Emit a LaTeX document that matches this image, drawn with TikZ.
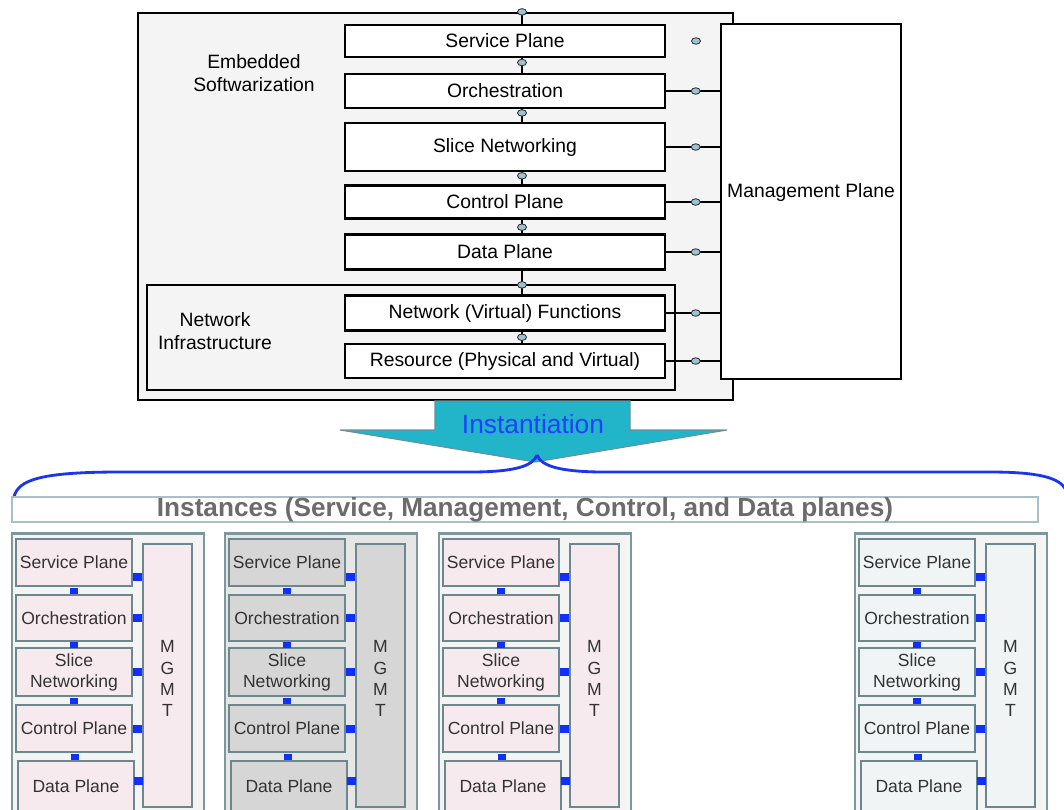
\documentclass[tikz,border=0pt]{standalone}
\usepackage{fontspec}
\setmainfont{Liberation Sans}
\usetikzlibrary{calc,positioning,shapes.geometric}

\definecolor{plugblue}{HTML}{9CC3D5}
\definecolor{arrowcyan}{HTML}{22B4C8}
\definecolor{arrowedge}{HTML}{6F8F96}
\definecolor{instblue}{HTML}{2040FF}
\definecolor{bracecol}{HTML}{1A35F0}
\definecolor{bannerline}{HTML}{A8C0C6}
\definecolor{instgray}{HTML}{6B6B6B}
\definecolor{groupline}{HTML}{7D979B}
\definecolor{layerline}{HTML}{6D888C}
\definecolor{pinkfill}{HTML}{F6EAEE}
\definecolor{grayfill}{HTML}{D6D6D6}
\definecolor{palefill}{HTML}{F0F4F5}
\definecolor{groupback}{HTML}{F4F4F4}
\definecolor{groupgray}{HTML}{E6E6E6}
\definecolor{sqblue}{HTML}{1030FF}

\tikzset{
	layer/.style={draw=black, line width=1.2pt, fill=white, minimum width=6.4cm, inner sep=0pt, font=\fontsize{11}{13}\selectfont},
	plug/.style={ellipse, draw=black!80, fill=plugblue, line width=0.5pt, minimum width=0.18cm, minimum height=0.13cm, inner sep=0pt},
	wire/.style={line width=1.3pt},
	ilayer/.style={draw=layerline, line width=1.4pt, minimum width=2.32cm, inner sep=0pt, align=center, text=black!80, font=\fontsize{10}{12}\selectfont},
	sq/.style={fill=sqblue, minimum width=0.16cm, minimum height=0.12cm, inner sep=0pt},
	sqside/.style={fill=sqblue, minimum width=0.18cm, minimum height=0.16cm, inner sep=0pt},
}

\begin{document}
\begin{tikzpicture}[x=0.02cm, y=-0.02cm]
			%%%%% START %%%%%
			\useasboundingbox (0,0) rectangle (1064,809);
			
			% embedded softwarization
			\node[draw=black, line width=1.3pt, fill=groupback, minimum width=11.9cm, minimum height=7.74cm, inner sep=0pt] (embed) at (435.5,206.5) {};
			\node[draw=black, line width=1.2pt, fill=groupback, minimum width=10.56cm, minimum height=2.1cm, inner sep=0pt] (infra) at (411,337.5) {};
			
			\node[align=center, font=\fontsize{11}{13}\selectfont] (embtxt) at (254,73) {Embedded\\Softwarization};
			\node[align=center, font=\fontsize{11}{13}\selectfont] (infratxt) at (215,331) {Network\\Infrastructure};
			
			\node[layer, minimum height=0.64cm] (sp) at (505,41) {Service Plane};
			\node[layer, minimum height=0.68cm] (orch) at (505,91) {Orchestration};
			\node[layer, minimum height=0.96cm] (slice) at (505,147) {Slice Networking};
			\node[layer, minimum height=0.66cm] (cp) at (505,202) {Control Plane};
			\node[layer, minimum height=0.70cm] (dp) at (505,252) {Data Plane};
			\node[layer, minimum height=0.70cm] (nvf) at (505,313) {Network (Virtual) Functions};
			\node[layer, minimum height=0.68cm] (res) at (505,361) {Resource (Physical and Virtual)};
			
			\node[draw=black, line width=1.2pt, fill=white, minimum width=3.6cm, minimum height=7.1cm, inner sep=0pt, font=\fontsize{11}{13}\selectfont] (mp) at (811,201.5) {};
			\node[font=\fontsize{11}{13}\selectfont] (mptxt) at (811,192) {Management Plane};
			
			\coordinate (spin) at ($(sp.north)+(17,0)$);
			\draw[wire] (spin) -- node[plug, pos=1]{} (spin |- embed.north);
			\draw[wire] ($(sp.south)+(17,0)$) -- node[plug, pos=0.3]{} ($(orch.north)+(17,0)$);
			\draw[wire] ($(orch.south)+(17,0)$) -- node[plug, pos=0.3]{} ($(slice.north)+(17,0)$);
			\draw[wire] ($(slice.south)+(17,0)$) -- node[plug, pos=0.3]{} ($(cp.north)+(17,0)$);
			\draw[wire] ($(cp.south)+(17,0)$) -- node[plug, pos=0.55]{} ($(dp.north)+(17,0)$);
			\draw[wire] ($(dp.south)+(17,0)$) -- node[plug, pos=0.6]{} ($(nvf.north)+(17,0)$);
			\draw[wire] ($(nvf.south)+(17,0)$) -- node[plug, pos=0.5]{} ($(res.north)+(17,0)$);
			
			\node[plug] (spare) at (696,41) {};
			\foreach \lay in {orch,slice,cp,dp,nvf,res}
				\draw[wire] (\lay.east) -- node[plug, pos=0.55]{} (\lay.east -| mp.west);
			
			% instantiation
			\draw[fill=arrowcyan, draw=arrowedge, line width=0.6pt] (435,401) -- (630,401) -- (630,430) -- (727,430) -- (535,462) -- (340,430) -- (435,430) -- cycle;
			\node[text=instblue, font=\fontsize{15}{17}\selectfont] (inst) at (533,424) {Instantiation};
			
			\draw[bracecol, line width=1.6pt] (14,497) .. controls (18,480) and (40,472) .. (120,472) -- (470,472) .. controls (515,472) and (533,466) .. (537,455);
			\draw[bracecol, line width=1.6pt] (537,455) .. controls (541,466) and (560,472) .. (605,472) -- (990,472) .. controls (1040,472) and (1060,478) .. (1066,490);
			
			\node[draw=bannerline, line width=1.2pt, fill=white, minimum width=20.52cm, minimum height=0.5cm, inner sep=0pt] (banner) at (525,509.5) {};
			\node[text=instgray, font=\bfseries\fontsize{14.9}{17}\selectfont] (bantxt) at (525,510) {Instances (Service, Management, Control, and Data planes)};
			
			% instances
			\foreach \gx/\gname/\gfill/\gback in {12/ga/pinkfill/groupback, 225/gb/grayfill/groupgray, 439/gc/pinkfill/groupback, 855/gd/palefill/groupback}{
				\node[draw=groupline, line width=1.2pt, fill=\gback, minimum width=3.84cm, minimum height=5.7cm, inner sep=0pt] (\gname) at (\gx+96,676) {};
				
				\node[ilayer, fill=\gfill, minimum height=0.94cm] (\gname-sp) at (\gx+62,562.5) {Service Plane};
				\node[ilayer, fill=\gfill, minimum height=0.92cm] (\gname-orch) at (\gx+62,618) {Orchestration};
				\node[ilayer, fill=\gfill, minimum height=0.96cm] (\gname-slice) at (\gx+62,672) {Slice\\Networking};
				\node[ilayer, fill=\gfill, minimum height=0.94cm] (\gname-cp) at (\gx+62,728.5) {Control Plane};
				\node[ilayer, fill=\gfill, minimum height=1.02cm] (\gname-dp) at (\gx+64,786.5) {Data Plane};
				
				\node[draw=layerline, line width=1.4pt, fill=\gfill, minimum width=0.98cm, minimum height=5.26cm, inner sep=0pt] (\gname-mg) at (\gx+155.5,675.5) {};
				\node[align=center, text=black!80, font=\fontsize{10}{12}\selectfont] (\gname-mgtxt) at (\gx+155.5,678.5) {M\\G\\M\\T};
				
				\path (\gname-sp.south) -- node[sq]{} (\gname-orch.north);
				\path (\gname-orch.south) -- node[sq]{} (\gname-slice.north);
				\path (\gname-slice.south) -- node[sq]{} (\gname-cp.north);
				\path (\gname-cp.south) -- node[sq]{} (\gname-dp.north);
				
				\coordinate (\gname-spout) at ($(\gname-sp.east)+(0,14)$);
				\path (\gname-spout) -- node[sqside]{} (\gname-spout -| \gname-mg.west);
				\foreach \lay in {orch,slice,cp}
					\path (\gname-\lay.east) -- node[sqside]{} (\gname-\lay.east -| \gname-mg.west);
				\coordinate (\gname-dpout) at ($(\gname-dp.east)+(0,-6)$);
				\path (\gname-dpout) -- node[sqside]{} (\gname-dpout -| \gname-mg.west);
			}
			
			%%%%% END %%%%%
\end{tikzpicture}
\end{document}
